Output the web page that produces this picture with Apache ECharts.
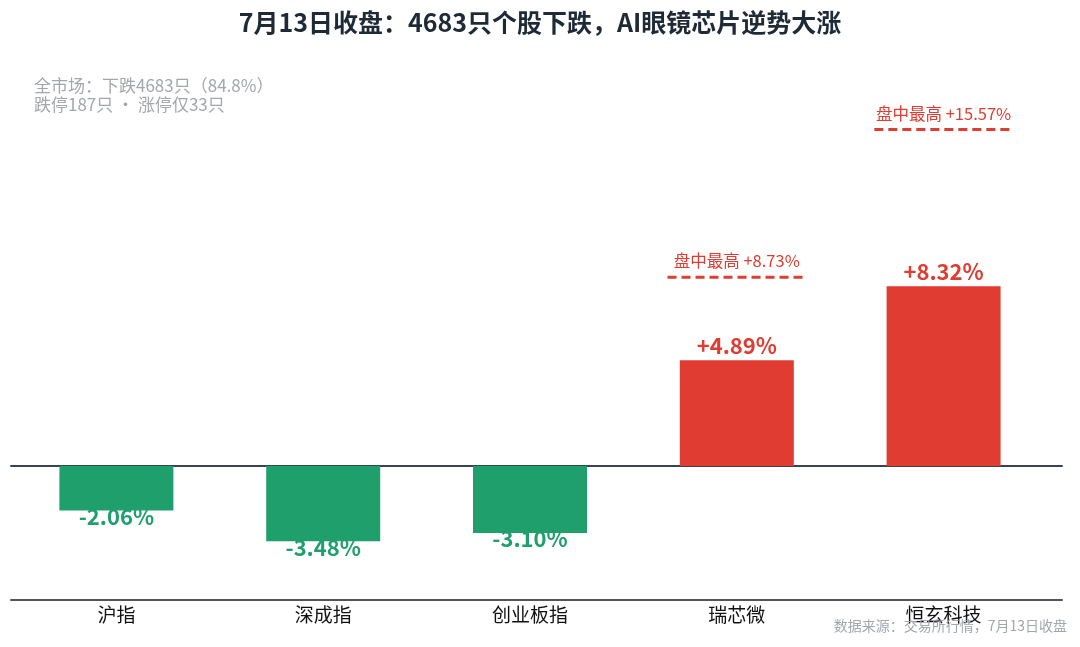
<!DOCTYPE html>
<html>
<head>
<meta charset="utf-8">
<script src="https://cdn.jsdelivr.net/npm/echarts@6/dist/echarts.min.js"></script>
<style>
  html, body { margin: 0; padding: 0; background: #fff; }
  #chart { width: 1080px; height: 647px; }
</style>
</head>
<body>
<div id="chart"></div>
<script>
// 数据
var categories = ['沪指', '深成指', '创业板指', '瑞芯微', '恒玄科技'];
var closeChange = [-2.06, -3.48, -3.10, 4.89, 8.32];
// 盘中最高 (只标两只个股)
var intradayHigh = [null, null, null, 8.73, 15.57];

var RED = '#e03c31';
var GREEN = '#1f9f6c';
var FONT = '"Noto Sans CJK SC", "Noto Sans", sans-serif';

var myChart = echarts.init(document.getElementById('chart'));

var barData = closeChange.map(function (v) {
  var up = v >= 0;
  return {
    value: v,
    itemStyle: { color: up ? RED : GREEN },
    label: {
      show: true,
      position: up ? 'top' : 'bottom',
      distance: up ? 4 : -5,
      formatter: (up ? '+' : '') + v.toFixed(2) + '%',
      color: up ? RED : GREEN,
      fontSize: 22,
      fontWeight: 'bold',
      fontFamily: FONT
    }
  };
});

var highData = [];
intradayHigh.forEach(function (v, i) {
  if (v != null) highData.push([i, v]);
});

myChart.setOption({
  backgroundColor: '#fff',
  animation: false,
  title: [{
    text: '7月13日收盘：4683只个股下跌，AI眼镜芯片逆势大涨',
    left: 'center',
    top: 5,
    textStyle: { fontSize: 25, fontWeight: 'bold', color: '#1f2a37', fontFamily: FONT }
  }, {
    text: '全市场：下跌4683只（84.8%）\n跌停187只 · 涨停仅33只',
    left: 29,
    top: 71,
    textStyle: { fontSize: 17, fontWeight: 'normal', color: '#a3a6ab', lineHeight: 19, fontFamily: FONT }
  }, {
    text: '数据来源：交易所行情，7月13日收盘',
    right: 8,
    top: 614,
    textStyle: { fontSize: 14, fontWeight: 'normal', color: '#a3a6ab', fontFamily: FONT }
  }],
  grid: [
    { left: 13, right: 33, top: 77, bottom: 47 },
    { left: 11, right: 18, top: 77, bottom: 47 }
  ],
  xAxis: [{
    type: 'category',
    gridIndex: 0,
    data: categories,
    axisLine: { show: false },
    axisTick: { show: false },
    axisLabel: { color: '#111', fontSize: 19, margin: 5, fontFamily: FONT }
  }, {
    // 底部轴线
    type: 'value',
    gridIndex: 1,
    min: 0, max: 1,
    axisLine: { show: true, onZero: false, lineStyle: { color: '#555', width: 2 } },
    axisTick: { show: false },
    axisLabel: { show: false },
    splitLine: { show: false }
  }, {
    // 零线
    type: 'value',
    gridIndex: 1,
    min: 0, max: 1,
    axisLine: { show: true, onZero: true, onZeroAxisIndex: 1, lineStyle: { color: '#3a4450', width: 2 } },
    axisTick: { show: false },
    axisLabel: { show: false },
    splitLine: { show: false }
  }],
  yAxis: [{
    type: 'value',
    gridIndex: 0,
    min: -6.2, max: 18,
    show: false,
    splitLine: { show: false }
  }, {
    type: 'value',
    gridIndex: 1,
    min: -6.2, max: 18,
    show: false,
    splitLine: { show: false }
  }],
  series: [{
    type: 'bar',
    xAxisIndex: 0,
    yAxisIndex: 0,
    barWidth: 114,
    data: barData,
    z: 1
  }, {
    type: 'custom',
    xAxisIndex: 0,
    yAxisIndex: 0,
    data: highData,
    z: 3,
    renderItem: function (params, api) {
      var p = api.coord([api.value(0), api.value(1)]);
      var w = api.size([1, 0])[0] * 0.67;
      return {
        type: 'group',
        children: [{
          type: 'line',
          shape: { x1: p[0] - w / 2, y1: p[1], x2: p[0] + w / 2, y2: p[1] },
          style: { stroke: RED, lineWidth: 3, lineDash: [9, 5] }
        }, {
          type: 'text',
          style: {
            x: p[0], y: p[1] - 8,
            text: '盘中最高 +' + api.value(1).toFixed(2) + '%',
            fill: RED,
            font: '16.5px ' + FONT,
            textAlign: 'center',
            textVerticalAlign: 'bottom'
          }
        }]
      };
    }
  }]
});
</script>
</body>
</html>
